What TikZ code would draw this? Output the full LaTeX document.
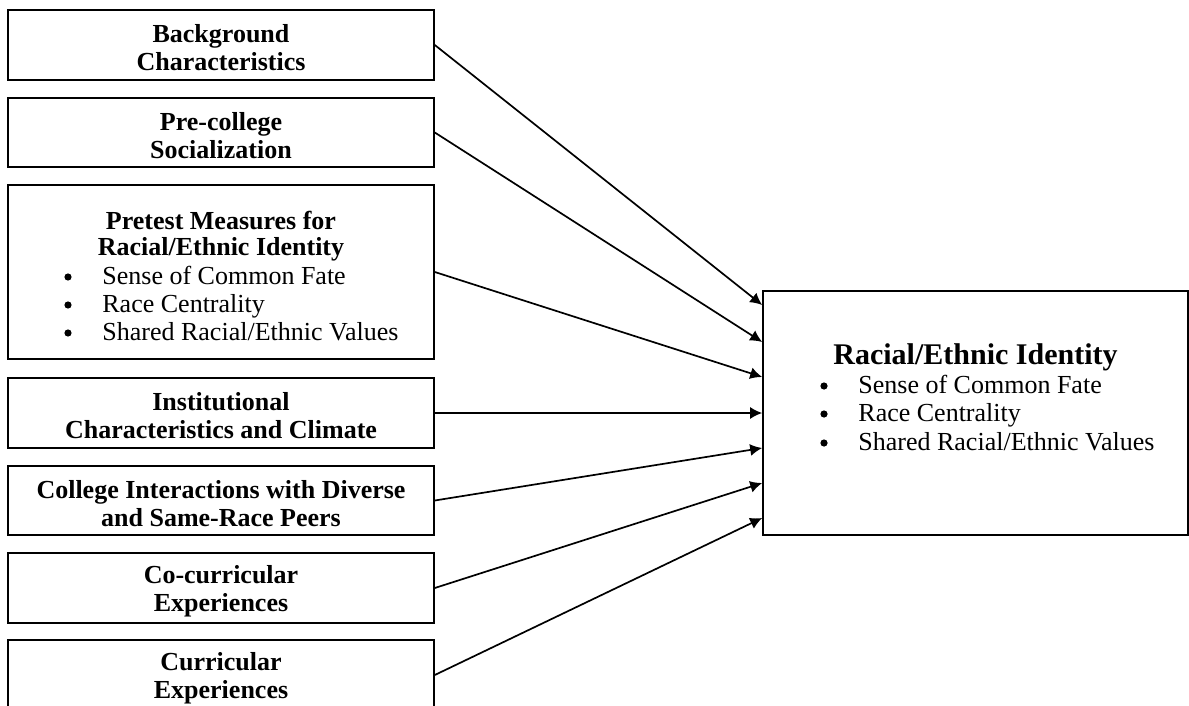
\documentclass[tikz,border=0pt]{standalone}
\usepackage{fontspec}
\setmainfont{Liberation Serif}
\usetikzlibrary{arrows.meta}
\begin{document}
\begin{tikzpicture}[x=0.5pt,y=-0.5pt,
  box/.style={draw, line width=0.8pt, minimum width=213pt, inner sep=0pt},
  txt/.style={inner sep=0pt, align=center, font=\fontsize{13}{14}\selectfont\bfseries},
  ttl/.style={inner sep=0pt, anchor=base, font=\fontsize{13}{14}\selectfont\bfseries},
  bigttl/.style={inner sep=0pt, anchor=base, font=\fontsize{15}{16}\selectfont\bfseries},
  itm/.style={inner sep=0pt, anchor=base west, font=\fontsize{13}{14}\selectfont},
  dot/.style={fill=black},
  arr/.style={line width=0.85pt, -{Latex[length=6pt,width=6pt]}}]
\useasboundingbox (0,0) rectangle (1189,706);
\clip (0,0) rectangle (1189,706);
\fill[white] (0,0) rectangle (1189,706);
% left boxes
\node[box, minimum height=35pt]   (bg) at (221,45)    {};
\node[box, minimum height=34.5pt] (pc) at (221,132.5) {};
\node[box, minimum height=87pt]   (pt) at (221,272)   {};
\node[box, minimum height=35pt]   (ic) at (221,413)   {};
\node[box, minimum height=34.5pt] (ci) at (221,500.5) {};
\node[box, minimum height=35pt]   (cc) at (221,588)   {};
\node[box, minimum height=35pt]   (cu) at (221,675)   {};
\node[txt] (bgt) at (221,48)    {Background\\Characteristics};
\node[txt] (pct) at (221,135.5) {Pre-college\\Socialization};
\node[txt] (ict) at (221,416)   {Institutional\\Characteristics and Climate};
\node[txt] (cit) at (221,503.5) {College Interactions with Diverse\\and Same-Race Peers};
\node[txt] (cct) at (221,591)   {Co-curricular\\Experiences};
\node[txt] (cut) at (221,678)   {Curricular\\Experiences};
% pretest box contents
\node[ttl] (pt1) at (221,229) {Pretest Measures for};
\node[ttl] (pt2) at (221,256) {Racial/Ethnic Identity};
\node[itm] (pt3) at (102,284) {Sense of Common Fate};
\node[itm] (pt4) at (102,312) {Race Centrality};
\node[itm] (pt5) at (102,340) {Shared Racial/Ethnic Values};
\fill[dot] (68,277) circle[radius=1.8pt];
\fill[dot] (68,305) circle[radius=1.8pt];
\fill[dot] (68,333) circle[radius=1.8pt];
% outcome box
\node[box, minimum width=212.5pt, minimum height=122pt] (ri) at (975.5,413) {};
\node[bigttl] (ri1) at (975.5,364) {Racial/Ethnic Identity};
\node[itm] (ri2) at (858,393) {Sense of Common Fate};
\node[itm] (ri3) at (858,421) {Race Centrality};
\node[itm] (ri4) at (858,450) {Shared Racial/Ethnic Values};
\fill[dot] (824,386) circle[radius=1.8pt];
\fill[dot] (824,414) circle[radius=1.8pt];
\fill[dot] (824,443) circle[radius=1.8pt];
% arrows
\draw[arr] (bg.east) -- ([yshift=54pt]ri.west);
\draw[arr] (pc.east) -- ([yshift=35.5pt]ri.west);
\draw[arr] (pt.east) -- ([yshift=18pt]ri.west);
\draw[arr] (ic.east) -- (ri.west);
\draw[arr] (ci.east) -- ([yshift=-17.5pt]ri.west);
\draw[arr] (cc.east) -- ([yshift=-35pt]ri.west);
\draw[arr] (cu.east) -- ([yshift=-52.5pt]ri.west);
\end{tikzpicture}
\end{document}
